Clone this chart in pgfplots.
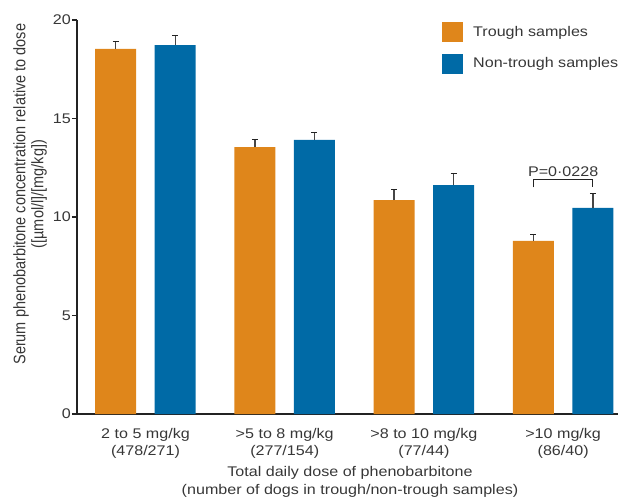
\documentclass[border=0pt]{standalone}
\usepackage{fontspec}
\setmainfont{Liberation Sans}[FakeStretch=1.15]
\newfontfamily\ylabfont{Liberation Sans}
\usepackage{pgfplots}
\pgfplotsset{compat=1.18}
\definecolor{cOr}{RGB}{223,134,27}
\definecolor{cBl}{RGB}{0,106,166}
\definecolor{txt}{RGB}{55,55,55}
\definecolor{axc}{RGB}{35,35,35}
\definecolor{errc}{RGB}{70,70,70}

\pgfplotstableread{
x y e
-0.2137 18.53 0.37
0.7863 13.55 0.40
1.7863 10.86 0.53
2.7863 8.79 0.33
}\trough
\pgfplotstableread{
x y e
0.2137 18.73 0.49
1.2137 13.91 0.37
2.2137 11.62 0.60
3.2137 10.46 0.72
}\nontrough

\begin{document}
\begin{tikzpicture}[font=\fontsize{14}{17.5}\selectfont, text=txt]
\begin{axis}[
 at={(0,0)}, anchor=south west,
 scale only axis, width=541pt, height=394pt,
 xmin=-0.492, xmax=3.394, ymin=0, ymax=20,
 axis x line=bottom, axis y line=left,
 axis line style={-, line width=1.3pt, color=axc},
 ytick={0,5,10,15,20},
 tick align=outside, major tick length=5pt,
 ytick style={line width=1.2pt, color=axc},
 yticklabel style={inner sep=1pt, text=txt},
 /pgf/number format/assume math mode=true,
 xtick={0,1,2,3}, xtick style={draw=none},
 xticklabels={{2 to 5 mg/kg\\(478/271)},{>5 to 8 mg/kg\\(277/154)},{>8 to 10 mg/kg\\(77/44)},{>10 mg/kg\\(86/40)}},
 xticklabel style={align=center, anchor=north, inner sep=0pt, yshift=-9pt, text=txt},
 xlabel={Total daily dose of phenobarbitone\\(number of dogs in trough/non-trough samples)},
 xlabel style={at={(rel axis cs:0.5046,0)}, anchor=north, yshift=-52.5pt, inner sep=0pt, align=center, text=txt},
 ylabel={Serum phenobarbitone concentration relative to dose\\([µmol/l]/[mg/kg])},
 ylabel style={at={(rel axis cs:-0.0555,0.558)}, anchor=south, inner sep=0pt, align=center, text=txt,
   font=\ylabfont\fontsize{14.5}{15.5}\selectfont, yscale=1.15},
 legend style={draw=none, fill=none, at={(rel axis cs:0.6747,0.995)}, anchor=north west, inner sep=0pt, row sep=11.5pt, nodes={inner sep=0pt, text=txt}},
 legend cell align=left,
 legend image code/.code={\fill[#1] (0pt,-10pt) rectangle (21pt,10pt); \path (31pt,0pt);},
 clip=false,
]
\addlegendimage{fill=cOr, draw=none}
\addlegendentry{Trough samples}
\addlegendimage{fill=cBl, draw=none}
\addlegendentry{Non-trough samples}

\addplot[forget plot, ybar, bar width=0.2945, bar shift=0pt, fill=cOr, draw=none,
 error bars/.cd, y dir=plus, y explicit,
 error bar style={draw=errc, line width=1.4pt, solid},
 error mark options={draw=axc, line width=1.2pt, mark size=3pt, rotate=90}]
 table[x=x, y=y, y error=e] {\trough};
\addplot[forget plot, ybar, bar width=0.2945, bar shift=0pt, fill=cBl, draw=none,
 error bars/.cd, y dir=plus, y explicit,
 error bar style={draw=errc, line width=1.4pt, solid},
 error mark options={draw=axc, line width=1.2pt, mark size=3pt, rotate=90}]
 table[x=x, y=y, y error=e] {\nontrough};

\draw[axc, line width=1pt] (axis cs:2.7863,11.5) |- (axis cs:3.2137,11.91) -- (axis cs:3.2137,11.5);
\node[anchor=base, inner sep=0pt, text=txt] at (axis cs:3.0,12.05) {P=0·0228};
\end{axis}
\pgfresetboundingbox
\path[use as bounding box] (-77pt,-89pt) rectangle (546pt,414pt);
\end{tikzpicture}
\end{document}
